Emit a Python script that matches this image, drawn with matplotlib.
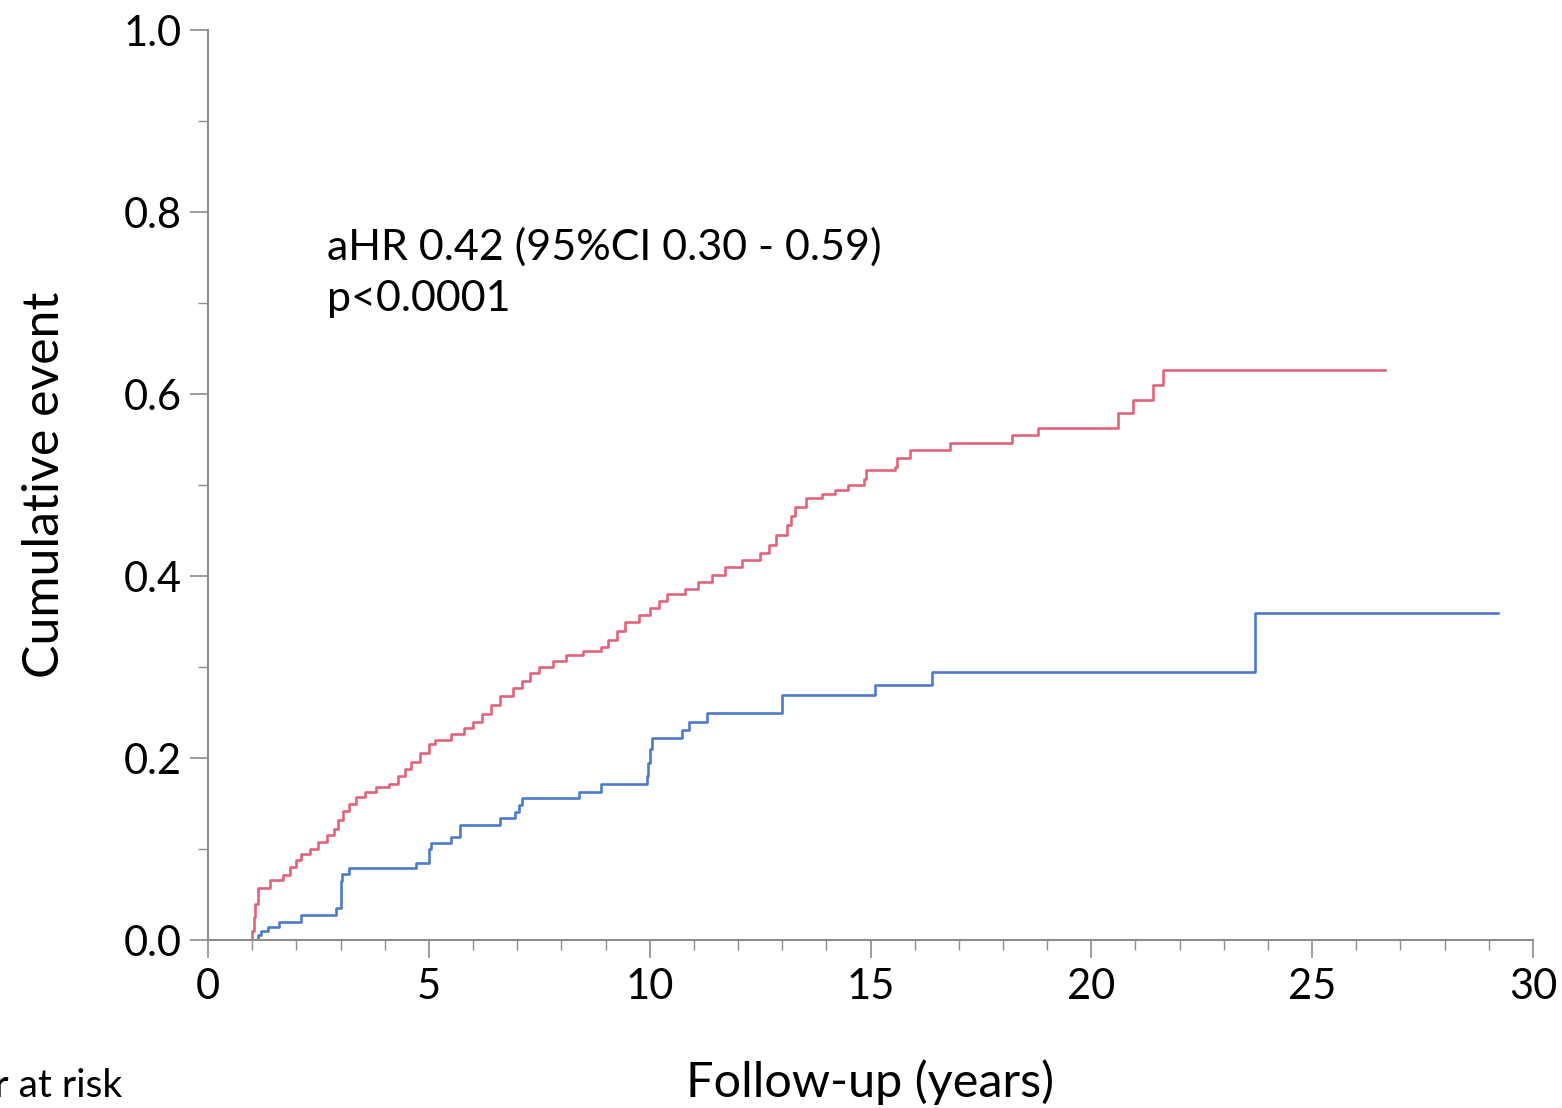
import numpy as np
import matplotlib.pyplot as plt
from matplotlib.ticker import MultipleLocator

# Step curves (time in years, cumulative event after step)
red_t = [0, 1.0, 1.03, 1.06, 1.12, 1.4, 1.7, 1.85, 2.0, 2.1, 2.3, 2.5, 2.7, 2.85,
         2.95, 3.05, 3.2, 3.35, 3.55, 3.8, 4.1, 4.3, 4.45, 4.6, 4.8, 5.0, 5.15,
         5.5, 5.8, 6.0, 6.2, 6.4, 6.6, 6.9, 7.1, 7.3, 7.5, 7.8, 8.1, 8.5, 8.9,
         9.05, 9.25, 9.45, 9.75, 10.0, 10.2, 10.4, 10.8, 11.1, 11.4, 11.7, 12.1,
         12.5, 12.7, 12.85, 13.1, 13.2, 13.3, 13.55, 13.9, 14.2, 14.5, 14.85,
         14.9, 15.55, 15.6, 15.9, 16.8, 18.2, 18.8, 20.6, 20.94, 21.4, 21.62, 26.65]
red_y = [0, 0.01, 0.025, 0.04, 0.057, 0.066, 0.072, 0.08, 0.088, 0.095, 0.1,
         0.108, 0.115, 0.122, 0.132, 0.142, 0.15, 0.157, 0.163, 0.168, 0.172,
         0.18, 0.188, 0.196, 0.205, 0.215, 0.22, 0.226, 0.233, 0.24, 0.248,
         0.258, 0.268, 0.277, 0.285, 0.293, 0.3, 0.307, 0.313, 0.318, 0.322,
         0.33, 0.34, 0.35, 0.357, 0.365, 0.373, 0.38, 0.386, 0.393, 0.401, 0.41,
         0.418, 0.425, 0.434, 0.445, 0.456, 0.466, 0.476, 0.486, 0.49, 0.495,
         0.5, 0.507, 0.516, 0.52, 0.53, 0.538, 0.546, 0.555, 0.563, 0.579,
         0.593, 0.61, 0.626, 0.626]

blue_t = [0, 1.12, 1.2, 1.35, 1.6, 2.1, 2.9, 3.0, 3.03, 3.2, 4.7, 5.0, 5.05,
          5.5, 5.7, 6.6, 6.95, 7.05, 7.1, 8.4, 8.9, 9.93, 9.97, 10.0, 10.05,
          10.73, 10.9, 11.3, 13.0, 15.1, 16.4, 23.7, 29.2]
blue_y = [0, 0.005, 0.01, 0.014, 0.02, 0.027, 0.035, 0.065, 0.073, 0.079,
          0.085, 0.1, 0.107, 0.113, 0.126, 0.134, 0.141, 0.148, 0.156, 0.163,
          0.172, 0.18, 0.195, 0.21, 0.222, 0.231, 0.24, 0.249, 0.269, 0.28,
          0.295, 0.359, 0.359]

plt.rcParams['font.family'] = ['Lato', 'DejaVu Sans']

fig = plt.figure(figsize=(15.62, 11.08), dpi=100)
ax = fig.add_axes([0.1332, 0.1516, 0.8482, 0.8213])

ax.step(red_t, red_y, where='post', color='#e0647a', lw=1.9)
ax.step(blue_t, blue_y, where='post', color='#4c7bcc', lw=1.9)

ax.set_xlim(0, 30)
ax.set_ylim(0, 1.0)
ax.xaxis.set_major_locator(MultipleLocator(5))
ax.xaxis.set_minor_locator(MultipleLocator(1))
ax.yaxis.set_major_locator(MultipleLocator(0.2))
ax.yaxis.set_minor_locator(MultipleLocator(0.1))
ax.yaxis.set_major_formatter(plt.FuncFormatter(lambda v, p: f"{v:.1f}"))

for s in ['top', 'right']:
    ax.spines[s].set_visible(False)
for s in ['left', 'bottom']:
    ax.spines[s].set_color('#8c8c8c')
    ax.spines[s].set_linewidth(1.5)

ax.tick_params(which='major', length=13, width=1.2, color='#8c8c8c',
               labelsize=30, pad=6)
ax.tick_params(axis='x', which='major', pad=7)
ax.tick_params(which='minor', length=7, width=1.0, color='#8c8c8c')

ax.set_ylabel('Cumulative event', fontsize=36)
ax.yaxis.set_label_coords(-0.106, 0.5)
ax.set_xlabel('Follow-up (years)', fontsize=35)
ax.xaxis.set_label_coords(0.5, -0.131)

ax.text(2.7, 0.733, 'aHR 0.42 (95%CI 0.30 - 0.59)\np<0.0001', fontsize=31,
        va='center', ha='left', linespacing=1.42)

fig.text(122 / 1562, 1 - 1086 / 1108, 'Number at risk', fontsize=28,
         ha='right', va='center')

fig.savefig('out.png', dpi=100)
